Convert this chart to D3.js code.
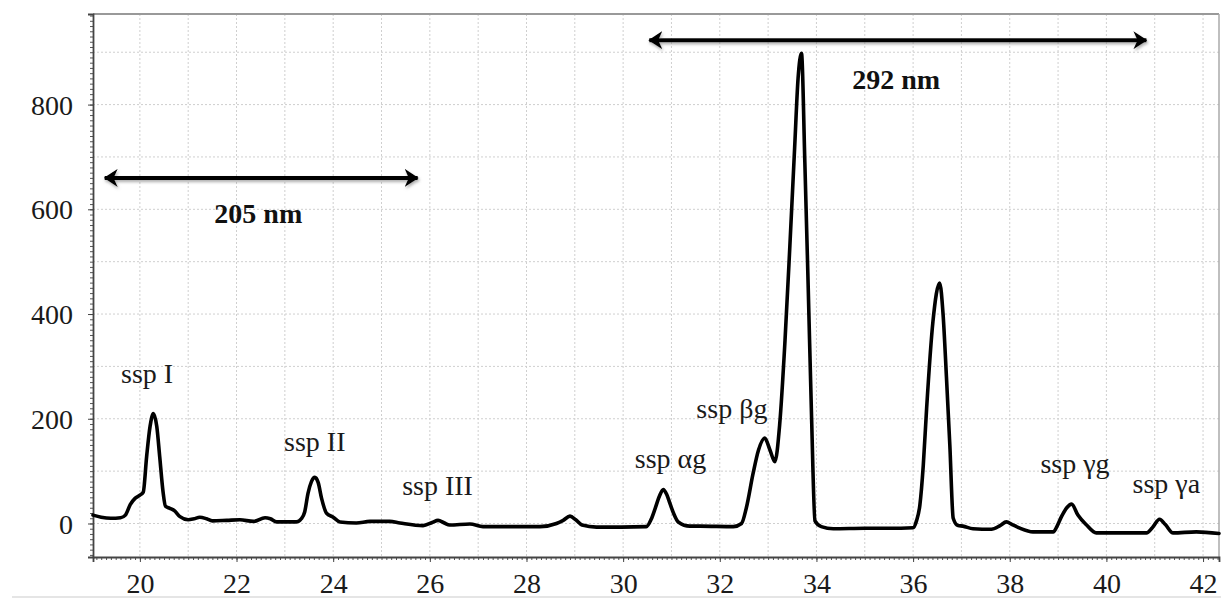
<!DOCTYPE html>
<html>
<head>
<meta charset="utf-8">
<script src="https://cdn.jsdelivr.net/npm/d3@7"></script>
<style>
  html, body { margin: 0; padding: 0; background: #fff; }
  svg { display: block; }
</style>
</head>
<body>
<svg id="chart" width="1221" height="601"></svg>
<script>
// ---- data ----
const retention = [19.03, 19.2, 19.4, 19.6, 19.7, 19.8, 19.9, 20.0, 20.07, 20.14, 20.21, 20.28, 20.35, 20.41, 20.48, 20.53, 20.62, 20.72, 20.83, 21.0, 21.12, 21.24, 21.38, 21.5, 21.8, 22.07, 22.35, 22.59, 22.7, 22.83, 23.24, 23.34, 23.41, 23.48, 23.55, 23.62, 23.69, 23.76, 23.86, 24.0, 24.14, 24.48, 24.76, 25.17, 25.38, 25.86, 26.05, 26.17, 26.3, 26.41, 26.83, 27.1, 28.28, 28.62, 28.76, 28.9, 29.02, 29.15, 29.45, 30.48, 30.58, 30.66, 30.75, 30.83, 30.9, 30.97, 31.05, 31.14, 31.38, 31.59, 32.28, 32.45, 32.55, 32.69, 32.8, 32.93, 33.04, 33.14, 33.24, 33.35, 33.45, 33.55, 33.62, 33.69, 33.76, 33.83, 33.9, 33.97, 34.1, 34.35, 35.0, 35.5, 36.0, 36.07, 36.14, 36.21, 36.28, 36.41, 36.55, 36.62, 36.69, 36.76, 36.83, 36.93, 37.03, 37.24, 37.62, 37.8, 37.93, 38.05, 38.21, 38.48, 38.9, 38.98, 39.07, 39.18, 39.28, 39.41, 39.59, 39.79, 40.83, 40.95, 41.1, 41.22, 41.38, 41.86, 42.33];
const absorbance = [16, 12, 10, 11, 16, 36, 48, 54, 60, 128, 185, 210, 185, 128, 60, 33, 29, 24, 13, 7, 9, 12, 9, 5, 6, 7, 4, 11, 9, 3, 3, 9, 22, 58, 80, 88, 78, 48, 20, 12, 3, 1, 4, 4, 1, -4, 2, 6, 1, -3, -1, -6, -6, 0, 6, 14, 7, -3, -7, -6, 8, 28, 52, 65, 56, 38, 18, 3, -5, -5, -6, 0, 30, 96, 140, 163, 140, 118, 190, 350, 530, 720, 850, 898, 690, 450, 200, 5, -6, -10, -9, -9, -8, 5, 35, 110, 220, 385, 459, 400, 280, 150, 10, -4, -5, -10, -11, -4, 3, -2, -9, -16, -16, -5, 13, 30, 37, 16, -3, -18, -18, -8, 8, -2, -18, -16, -19];

const xTickLabels = [20, 22, 24, 26, 28, 30, 32, 34, 36, 38, 40, 42];
const yTickLabels = [0, 200, 400, 600, 800];
const xGrid = d3.range(20, 43, 1);
const yGrid = d3.range(0, 901, 100);

const peakLabels = ["ssp I", "ssp II", "ssp III", "ssp \u03B1g", "ssp \u03B2g", "ssp \u03B3g", "ssp \u03B3a"];
const peakLabelX = [20.15, 23.62, 26.16, 30.98, 32.25, 39.35, 41.24];
const peakLabelY = [269, 139, 55, 106, 201, 97, 58];

const spanLabels = ["205 nm", "292 nm"];
const spanStart = [19.23, 30.5];
const spanEnd = [25.79, 40.87];
const spanArrowY = [660, 923];
const spanLabelX = [22.45, 35.65];
const spanLabelY = [573, 829];

// ---- layout ----
const svg = d3.select("#chart");
const L = 93, T = 14, R = 1219, B = 557;
const x = d3.scaleLinear().domain([19.03, 42.33]).range([L, R]);
const y = d3.scaleLinear().domain([-64, 973]).range([B, T]);
const serif = "'Liberation Serif', 'Times New Roman', serif";

// defs
const defs = svg.append("defs");
defs.append("marker").attr("id", "arrowEnd")
  .attr("viewBox", "0 0 14 18").attr("refX", 13).attr("refY", 9)
  .attr("markerWidth", 14).attr("markerHeight", 18)
  .attr("markerUnits", "userSpaceOnUse").attr("orient", "auto")
  .append("path").attr("d", "M0,0 L14,9 L0,18 L4,9 Z").attr("fill", "#000");
defs.append("marker").attr("id", "arrowStart")
  .attr("viewBox", "0 0 14 18").attr("refX", 1).attr("refY", 9)
  .attr("markerWidth", 14).attr("markerHeight", 18)
  .attr("markerUnits", "userSpaceOnUse").attr("orient", "auto")
  .append("path").attr("d", "M14,0 L0,9 L14,18 L10,9 Z").attr("fill", "#000");
const f = defs.append("filter").attr("id", "shadow")
  .attr("filterUnits", "userSpaceOnUse")
  .attr("x", 0).attr("y", 0).attr("width", 1221).attr("height", 601);
f.append("feDropShadow").attr("dx", 1).attr("dy", 2).attr("stdDeviation", 1.5)
  .attr("flood-color", "#777").attr("flood-opacity", 0.6);

// faint page line at the bottom
svg.append("line").attr("x1", 12).attr("x2", 1221).attr("y1", 597).attr("y2", 597)
  .attr("stroke", "#dcdcdc").attr("stroke-width", 1.5);

// grid
const grid = svg.append("g").attr("stroke", "#cfcfcf").attr("stroke-width", 1).attr("stroke-dasharray", "2,2");
grid.selectAll(".vg").data(xGrid).join("line")
  .attr("x1", d => x(d)).attr("x2", d => x(d)).attr("y1", T).attr("y2", B);
grid.selectAll(".hg").data(yGrid).join("line")
  .attr("x1", L).attr("x2", R).attr("y1", d => y(d)).attr("y2", d => y(d));

// frame: top and right borders
svg.append("line").attr("x1", L).attr("x2", R).attr("y1", T).attr("y2", T).attr("stroke", "#999").attr("stroke-width", 2);
svg.append("line").attr("x1", R).attr("x2", R).attr("y1", T).attr("y2", B).attr("stroke", "#aaa").attr("stroke-width", 1.5);

// minor ticks
const yMinor = svg.append("g").attr("transform", `translate(${L},0)`)
  .call(d3.axisLeft(y).tickValues(d3.range(-60, 971, 10)).tickSize(3).tickFormat(""));
const xMinor = svg.append("g").attr("transform", `translate(0,${B})`)
  .call(d3.axisBottom(x).tickValues(d3.range(19.1, 42.31, 0.1)).tickSize(3).tickFormat(""));
[yMinor, xMinor].forEach(g => { g.select(".domain").remove(); g.selectAll("line").attr("stroke", "#555"); });

// major axes
const yAxis = svg.append("g").attr("transform", `translate(${L},0)`)
  .call(d3.axisLeft(y).tickValues(yTickLabels).tickSize(5).tickPadding(15));
const xAxis = svg.append("g").attr("transform", `translate(0,${B})`)
  .call(d3.axisBottom(x).tickValues(xTickLabels).tickSize(5).tickFormat(d3.format("d")));
[yAxis, xAxis].forEach(g => {
  g.select(".domain").attr("stroke", "#444").attr("stroke-width", 1.8);
  g.selectAll("line").attr("stroke", "#444");
  g.selectAll("text").attr("font-family", serif).attr("font-size", 28).attr("fill", "#1a1a1a");
});
yAxis.selectAll("text").attr("dy", "0.34em");
xAxis.selectAll("text").attr("y", 36).attr("dy", null);

// chromatogram trace
const pts = retention.map((r, i) => [r, absorbance[i]]);
svg.append("path").datum(pts)
  .attr("fill", "none").attr("stroke", "#000").attr("stroke-width", 3.6)
  .attr("stroke-linejoin", "round").attr("stroke-linecap", "round")
  .attr("d", d3.line().x(d => x(d[0])).y(d => y(d[1])).curve(d3.curveMonotoneX));

// peak labels
svg.append("g").selectAll("text").data(peakLabels).join("text")
  .attr("x", (d, i) => x(peakLabelX[i])).attr("y", (d, i) => y(peakLabelY[i]))
  .attr("text-anchor", "middle").attr("font-family", serif).attr("font-size", 28)
  .attr("fill", "#1a1a1a").text(d => d);

// wavelength span arrows
svg.append("g").selectAll("line").data(spanLabels).join("line")
  .attr("x1", (d, i) => x(spanStart[i]) + 2).attr("x2", (d, i) => x(spanEnd[i]) - 2)
  .attr("y1", (d, i) => y(spanArrowY[i])).attr("y2", (d, i) => y(spanArrowY[i]))
  .attr("stroke", "#000").attr("stroke-width", 4)
  .attr("marker-start", "url(#arrowStart)").attr("marker-end", "url(#arrowEnd)")
  .attr("filter", "url(#shadow)");
svg.append("g").selectAll("text").data(spanLabels).join("text")
  .attr("x", (d, i) => x(spanLabelX[i])).attr("y", (d, i) => y(spanLabelY[i]))
  .attr("text-anchor", "middle").attr("font-family", serif).attr("font-size", 28)
  .attr("font-weight", "bold").attr("fill", "#111").text(d => d);
</script>
</body>
</html>
